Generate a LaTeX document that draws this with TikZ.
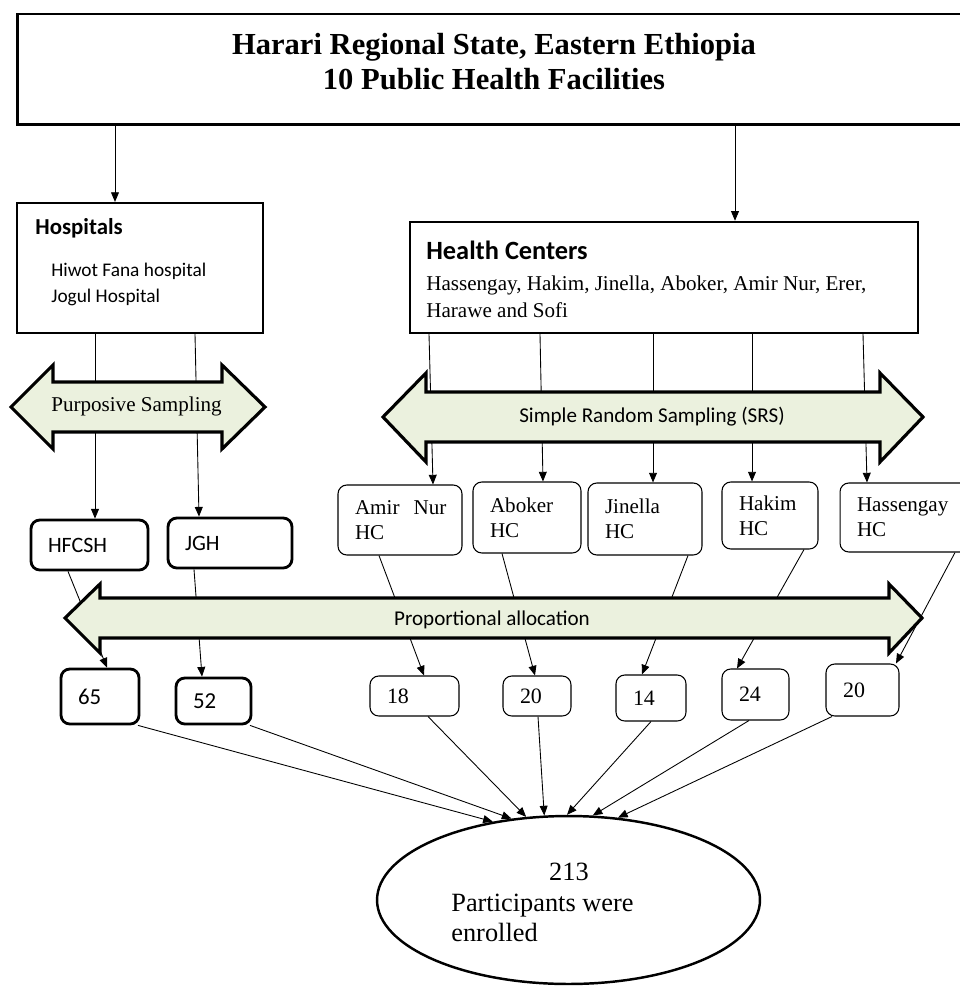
\documentclass[tikz,border=0pt]{standalone}
\usepackage{fontspec}
\setmainfont{Liberation Serif}
\newfontfamily\calib{Carlito}
\usepackage{tikz}
\usetikzlibrary{arrows.meta, shapes.geometric}
\definecolor{bandfill}{HTML}{EBF1DE}

\begin{document}
\begin{tikzpicture}[x = 0.02cm, y = -0.02cm,
  box/.style = {draw, rectangle, inner sep = 0pt},
  lbl/.style = {anchor = west, inner sep = 0pt},
  hcbox/.style = {draw, rounded corners = 5pt, line width = 0.6pt, align = left, inner xsep = 0.34cm, inner ysep = 0pt, font = \fontsize{12}{14.2}\selectfont},
  hbox/.style = {hcbox, line width = 1.6pt, font = \calib\fontsize{12.5}{15}\selectfont},
  numbox/.style = {hcbox, font = \fontsize{12.5}{15}\selectfont},
  hnum/.style = {hbox, font = \calib\fontsize{13}{15}\selectfont},
  arr/.style = {-{Triangle[length = 5.5pt, width = 4.5pt]}, line width = 0.5pt},
  band/.style = {draw, fill = bandfill, line width = 1.8pt, line join = miter}]
\useasboundingbox (0,0) rectangle (959,986);

% top level
\node[box, line width = 1.7pt, minimum width = 19.16cm, minimum height = 2.22cm] (top) at (496,69.5) {};
\node[font = \bfseries\fontsize{17.4}{20}\selectfont, align = center] (title) at (494,62) {Harari Regional State, Eastern Ethiopia\\10 Public Health Facilities};

% facility groups
\node[box, line width = 1.2pt, minimum width = 4.92cm, minimum height = 2.6cm] (hosp) at (140,268) {};
\node[lbl, font = \calib\bfseries\fontsize{13}{15}\selectfont] (hosplbl) at (35,228) {Hospitals};
\node[lbl, align = left, font = \calib\fontsize{11}{14.8}\selectfont] (hosplist) at (51,284) {Hiwot Fana hospital\\Jogul Hospital};
\node[box, line width = 1.4pt, minimum width = 10.16cm, minimum height = 2.22cm] (hc) at (664,277.5) {};
\node[lbl, font = \calib\bfseries\fontsize{15}{18}\selectfont] (hclbl) at (426,250) {Health Centers};
\node[lbl, align = left, font = \fontsize{12}{15.4}\selectfont] (hclist) at (426,296.5) {Hassengay, Hakim, Jinella, Aboker, Amir Nur, Erer,\\Harawe and Sofi};

% selected facilities
\node[hbox, text width = 1.66cm, minimum height = 1cm] (hfcsh) at (89.5,545) {HFCSH};
\node[hbox, text width = 1.80cm, minimum height = 1cm] (jgh) at (230,543) {JGH};
\node[hcbox, text width = 1.80cm, minimum height = 1.4cm] (amir) at (400,520) {Amir~ Nur\\HC};
\node[hcbox, text width = 1.48cm, minimum height = 1.42cm] (abok) at (527,517.5) {Aboker\\HC};
\node[hcbox, text width = 1.60cm, minimum height = 1.44cm] (jin) at (645,519) {Jinella\\HC};
\node[hcbox, text width = 1.24cm, minimum height = 1.34cm] (hak) at (770,515.5) {Hakim\\HC};
\node[hcbox, text width = 1.92cm, minimum height = 1.38cm] (hass) at (905,517.5) {Hassengay\\HC};

% sample sizes
\node[hnum, text width = 0.88cm, minimum height = 1.1cm] (n65) at (100,696.5) {65};
\node[hnum, text width = 0.82cm, minimum height = 0.92cm] (n52) at (213.5,701) {52};
\node[numbox, text width = 1.10cm, minimum height = 0.8cm] (n18) at (414.5,696) {18};
\node[numbox, text width = 0.68cm, minimum height = 0.8cm] (n20) at (537,696) {20};
\node[numbox, text width = 0.72cm, minimum height = 0.92cm] (n14) at (651,698) {14};
\node[numbox, text width = 0.66cm, minimum height = 1.02cm] (n24) at (755.5,694.5) {24};
\node[numbox, text width = 0.78cm, minimum height = 1.04cm] (n20r) at (862.5,690) {20};

\node[draw, ellipse, line width = 1.4pt, minimum width = 7.66cm, minimum height = 3.36cm, inner sep = 0pt] (ell) at (568.5,900) {};
\node[font = \fontsize{15}{17}\selectfont, inner sep = 0pt] (tot) at (569,872) {213};
\node[lbl, align = left, font = \fontsize{15}{17}\selectfont] (enr) at (451,918) {Participants were\\enrolled};

% connectors
\draw[arr] (top.south -| 115,0) -- (hosp.north -| 115,0);
\draw[arr] (top.south -| 735,0) -- (hc.north -| 735,0);
\foreach \i/\j/\a/\b in {hosp/hfcsh/95/95, hosp/jgh/195/199,
  hc/amir/429/433, hc/abok/540/543, hc/jin/653/653, hc/hak/752/752, hc/hass/863/867,
  hfcsh/n65/68/107, jgh/n52/194/202, amir/n18/379/424, abok/n20/502/535,
  jin/n14/688/642, hak/n24/804/737, hass/n20r/955/896}{
\draw[arr] (\i.south -| \a,0) -- (\j.north -| \b,0);
}
\foreach \i/\a/\t in {n65/138/134, n52/250/125, n18/428/117, n20/538/106,
  n14/651/91, n24/749/74, n20r/832/59}{
\draw[arr] (\i.south -| \a,0) -- (ell.\t);
}

% sampling bands
\draw[band] (11,407) -- (53,365) -- (53,382) -- (222,382) -- (222,365) -- (265,407) -- (222,449) -- (222,432) -- (53,432) -- (53,449) -- cycle;
\node[font = \fontsize{12}{14}\selectfont] (purp) at (136.5,406) {Purposive Sampling};
\draw[band] (383,417) -- (426,373) -- (426,392) -- (880,392) -- (880,373) -- (923,417) -- (880,462) -- (880,442) -- (426,442) -- (426,462) -- cycle;
\node[font = \calib\fontsize{12}{14}\selectfont] (srs) at (652,417) {Simple Random Sampling (SRS)};
\draw[band] (65,618) -- (100,584) -- (100,598) -- (889,598) -- (889,584) -- (922,618) -- (889,653) -- (889,638) -- (100,638) -- (100,653) -- cycle;
\node[font = \calib\fontsize{12}{14}\selectfont] (prop) at (492,620) {Proportional allocation};
\end{tikzpicture}
\end{document}
